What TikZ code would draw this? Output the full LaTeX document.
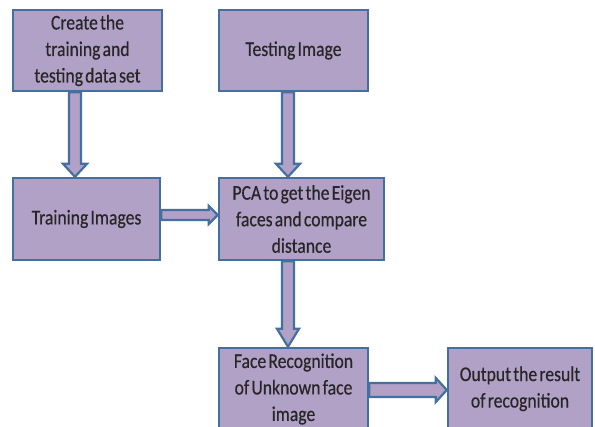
\documentclass[tikz,border=0pt]{standalone}
\usepackage{fontspec}
\newfontfamily\boxfont[FakeStretch=0.84,WordSpace=0.55,FakeBold=0.4]{Carlito}
\usetikzlibrary{calc}
\definecolor{boxfill}{HTML}{B2A1C7}
\definecolor{boxline}{HTML}{44709F}
\definecolor{boxtext}{HTML}{262626}
\tikzset{
  stepbox/.style={draw=boxline, fill=boxfill, line width=2.4pt, align=center,
    inner sep=0pt, text=boxtext,
    font=\boxfont\fontsize{21}{26.5}\selectfont},
  blk/.style={draw=boxline, fill=boxfill, line width=2.2pt, line join=miter}
}
\begin{document}
\begin{tikzpicture}[x=1pt,y=-1pt]
\useasboundingbox (0,0) rectangle (595,427);

% process boxes
\node[stepbox, minimum width=149pt, minimum height=81pt] (create) at (87.5,50.5)
  {Create the\\training and\\testing data set};
\node[stepbox, minimum width=149pt, minimum height=81pt] (testimg) at (293.5,50.5)
  {Testing Image};
\node[stepbox, minimum width=147pt, minimum height=82pt] (trainimg) at (86.5,219)
  {Training Images};
\node[stepbox, minimum width=165pt, minimum height=82pt] (pca) at (301.5,219)
  {PCA to get the Eigen\\faces and compare\\distance};
\node[stepbox, minimum width=149pt, minimum height=82pt] (facerec) at (293.5,389)
  {Face Recognition\\of Unknown face\\image};
\node[stepbox, minimum width=144pt, minimum height=82pt] (output) at (520,389)
  {\raisebox{-6pt}{\begin{tabular}{@{}c@{}}Output the result\\of recognition\end{tabular}}};

% block arrows
\draw[blk] let \p1=(create.south), \p2=(trainimg.north) in
  (69pt,\y1) -- (69pt,\y2+13pt) -- (63pt,\y2+13pt) -- (75pt,\y2)
  -- (87pt,\y2+13pt) -- (81pt,\y2+13pt) -- (81pt,\y1) -- cycle;
\draw[blk] let \p1=(testimg.south), \p2=(pca.north) in
  (282pt,\y1) -- (282pt,\y2+13pt) -- (276pt,\y2+13pt) -- (288pt,\y2)
  -- (300pt,\y2+13pt) -- (294pt,\y2+13pt) -- (294pt,\y1) -- cycle;
\draw[blk] let \p1=(pca.south), \p2=(facerec.north) in
  (282pt,\y1) -- (282pt,\y2+18pt) -- (277pt,\y2+18pt) -- (288pt,\y2)
  -- (299pt,\y2+18pt) -- (294pt,\y2+18pt) -- (294pt,\y1) -- cycle;
\draw[blk] let \p1=(trainimg.east), \p2=(pca.west) in
  (\x1,-210pt) -- (\x2-9pt,-210pt) -- (\x2-9pt,-206pt) -- (\x2,-215pt)
  -- (\x2-9pt,-224pt) -- (\x2-9pt,-220pt) -- (\x1,-220pt) -- cycle;
\draw[blk] let \p1=(facerec.east), \p2=(output.west) in
  (\x1,-383pt) -- (\x2-11pt,-383pt) -- (\x2-11pt,-378pt) -- (\x2,-390pt)
  -- (\x2-11pt,-402pt) -- (\x2-11pt,-397pt) -- (\x1,-397pt) -- cycle;
\end{tikzpicture}
\end{document}
